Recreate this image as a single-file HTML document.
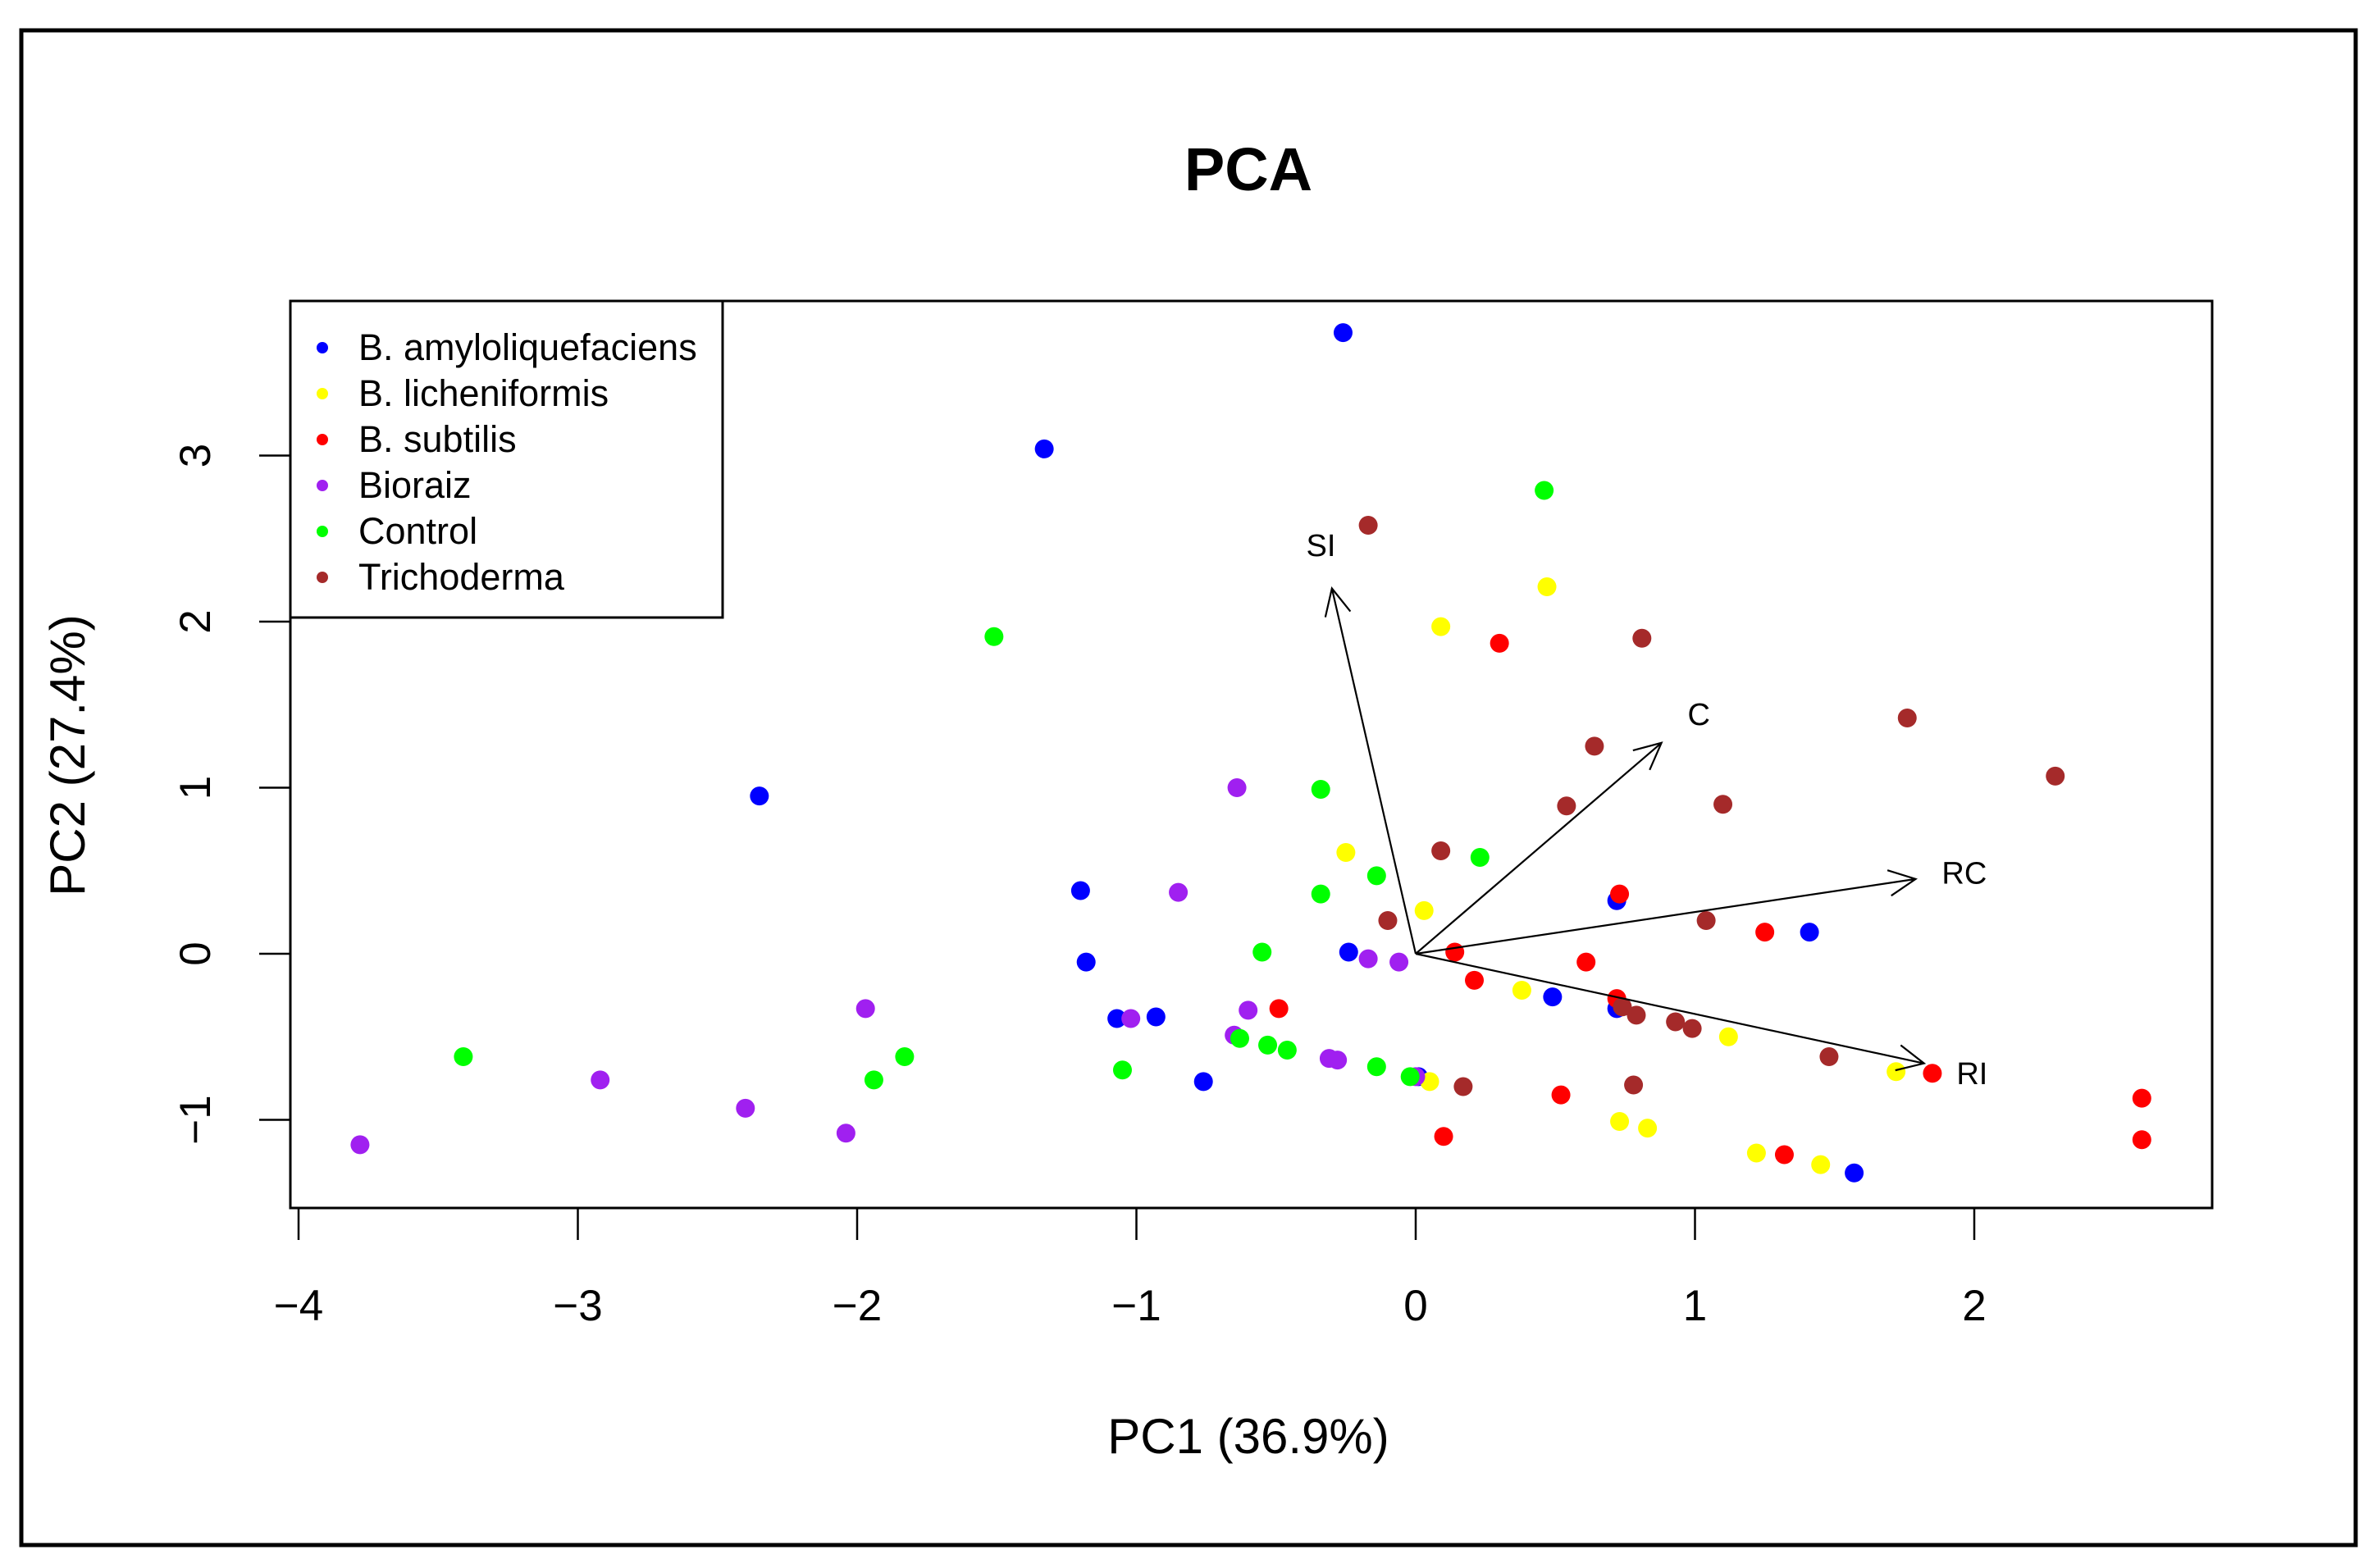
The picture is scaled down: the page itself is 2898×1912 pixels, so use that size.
<!DOCTYPE html>
<html><head><meta charset="utf-8"><style>
html,body{margin:0;padding:0;background:#fff}
svg{display:block;font-family:"Liberation Sans",sans-serif}
</style></head><body>
<svg id="chart" width="2898" height="1912" viewBox="0 0 2898 1912" xmlns="http://www.w3.org/2000/svg">
<rect x="26" y="37" width="2846" height="1847" fill="none" stroke="#000" stroke-width="5"/>
<text x="1522" y="232" font-size="74" font-weight="bold" text-anchor="middle">PCA</text>
<g id="grid"></g>
<g id="marks"></g>
<rect x="354" y="367" width="2343" height="1106" fill="none" stroke="#000" stroke-width="3"/>
<text x="1522" y="1772" font-size="60" text-anchor="middle">PC1 (36.9%)</text>
<text transform="translate(103,921) rotate(-90)" font-size="60" text-anchor="middle">PC2 (27.4%)</text>
<g>
<rect x="354" y="367" width="527" height="386" fill="#fff" stroke="#000" stroke-width="3"/>
<g id="legend"></g>
</g>
</svg>
<script>
const groups = ["B. amyloliquefaciens","B. licheniformis","B. subtilis","Bioraiz","Control","Trichoderma"];
const colors = ["#0000ff","#ffff00","#ff0000","#a020f0","#00ff00","#a52a2a"];
const xTicks = [-4,-3,-2,-1,0,1,2];
const yTicks = [-1,0,1,2,3];
const blueX = [-0.26,-1.33,-2.35,-1.20,-1.18,-1.07,-0.93,-0.76,-0.24,0.01,0.49,0.72,0.72,1.41,1.57];
const blueY = [3.74,3.04,0.95,0.38,-0.05,-0.39,-0.38,-0.77,0.01,-0.74,-0.26,-0.33,0.32,0.13,-1.32];
const yellowX = [0.09,0.47,-0.25,0.03,0.38,0.05,1.12,0.73,0.83,1.22,1.45,1.72];
const yellowY = [1.97,2.21,0.61,0.26,-0.22,-0.77,-0.50,-1.01,-1.05,-1.20,-1.27,-0.71];
const redX = [0.30,0.14,0.21,0.61,0.73,0.72,1.25,-0.49,0.10,0.52,1.32,1.85,2.60,2.60];
const redY = [1.87,0.01,-0.16,-0.05,0.36,-0.27,0.13,-0.33,-1.10,-0.85,-1.21,-0.72,-0.87,-1.12];
const purpleX = [-3.78,-2.92,-2.40,-2.04,-1.97,-1.02,-0.85,-0.64,-0.60,-0.65,-0.31,-0.28,-0.17,-0.06,0.0];
const purpleY = [-1.15,-0.76,-0.93,-1.08,-0.33,-0.39,0.37,1.00,-0.34,-0.49,-0.63,-0.64,-0.03,-0.05,-0.74];
const greenX = [-3.41,-1.94,-1.83,-1.51,-1.05,-0.63,-0.55,-0.53,-0.46,-0.34,-0.34,-0.14,-0.14,-0.02,0.23,0.46];
const greenY = [-0.62,-0.76,-0.62,1.91,-0.70,-0.51,0.01,-0.55,-0.58,0.99,0.36,0.47,-0.68,-0.74,0.58,2.79];
const brownX = [-0.17,0.81,0.64,0.54,0.09,-0.10,1.04,1.10,1.76,2.29,0.74,0.79,0.93,0.99,0.78,0.17,1.48];
const brownY = [2.58,1.90,1.25,0.89,0.62,0.20,0.20,0.90,1.42,1.07,-0.32,-0.37,-0.41,-0.45,-0.79,-0.80,-0.62];
const loadNames = ["SI","C","RC","RI"];
const loadX = [-0.30,0.88,1.79,1.82];
const loadY = [2.20,1.27,0.45,-0.66];

const NS="http://www.w3.org/2000/svg";
function X(v){return 1726+v*340.5;}
function Y(v){return 1163-v*202.5;}
function mk(tag,attrs,parent){const e=document.createElementNS(NS,tag);for(const k in attrs)e.setAttribute(k,attrs[k]);parent.appendChild(e);return e;}
const grid=document.getElementById('grid'), marks=document.getElementById('marks'), leg=document.getElementById('legend');
xTicks.forEach(t=>{
  const l=mk('line',{x1:X(t),x2:X(t),y1:1473,y2:1512,stroke:'#000','stroke-width':2.5},grid);
  
  
  const tx=mk('text',{x:X(t),y:1610,'font-size':53,'text-anchor':'middle'},grid);
  tx.textContent=t<0?'\u2212'+Math.abs(t):String(t);
  
  
});
yTicks.forEach(t=>{
  const l=mk('line',{x1:316,x2:354,y1:Y(t),y2:Y(t),stroke:'#000','stroke-width':2.5},grid);
  
  
  const tx=mk('text',{transform:`translate(256,${Y(t)}) rotate(-90)`,'font-size':53,'text-anchor':'middle'},grid);
  tx.textContent=t<0?'\u2212'+Math.abs(t):String(t);
  
  
});
const series=[[blueX,blueY],[yellowX,yellowY],[redX,redY],[purpleX,purpleY],[greenX,greenY],[brownX,brownY]];
series.forEach((s,gi)=>{
  s[0].forEach((xv,i)=>{
    const c=mk('circle',{cx:X(xv),cy:Y(s[1][i]),r:11.5,fill:colors[gi]},marks);
    
    
  });
});
loadNames.forEach((n,i)=>{
  const x1=X(0),y1=Y(0),x2=X(loadX[i]),y2=Y(loadY[i]);
  const a=Math.atan2(y2-y1,x2-x1),h=36,sp=0.45;
  const p=mk('path',{d:`M${x1},${y1}L${x2},${y2}M${x2-h*Math.cos(a-sp)},${y2-h*Math.sin(a-sp)}L${x2},${y2}L${x2-h*Math.cos(a+sp)},${y2-h*Math.sin(a+sp)}`,stroke:'#000','stroke-width':2.2,fill:'none'},marks);
  
  
  const t=mk('text',{x:x2+(x2-x1)/Math.hypot(x2-x1,y2-y1)*60,y:y2+(y2-y1)/Math.hypot(x2-x1,y2-y1)*55+14,'font-size':38,'text-anchor':'middle'},marks);
  t.textContent=n;
  
  
});
groups.forEach((g,i)=>{
  const y=424+i*56;
  const c=mk('circle',{cx:393,cy:y,r:7,fill:colors[i]},leg);
  
  
  const t=mk('text',{x:437,y:y+15,'font-size':45},leg);
  t.textContent=g;
  
  
});
</script>
</body></html>
